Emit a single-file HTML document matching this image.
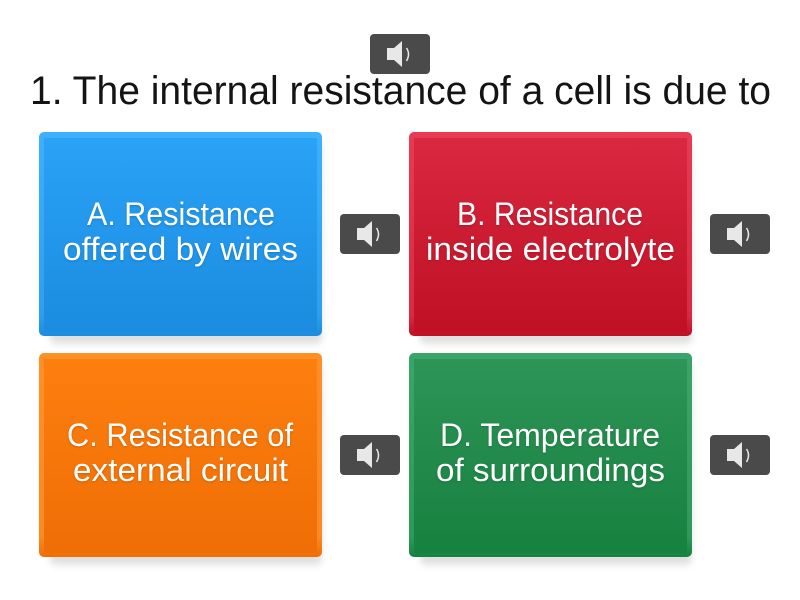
<!DOCTYPE html>
<html><head><meta charset="utf-8"><style>
html,body{margin:0;padding:0;background:#fff;width:800px;height:600px;overflow:hidden}
svg{display:block}
text{font-family:"Liberation Sans",sans-serif}
.t{fill:#fff;font-size:32.5px;filter:drop-shadow(0 1px 1px rgba(0,0,0,.18))}
</style></head><body>
<svg width="800" height="600" viewBox="0 0 800 600" xmlns="http://www.w3.org/2000/svg">
<defs>
<filter id="s" x="-10%" y="-10%" width="120%" height="125%"><feGaussianBlur stdDeviation="3.5"/></filter>
<linearGradient id="a" x1="0" y1="0" x2="0" y2="1"><stop offset="0" stop-color="#2aa2f6"/><stop offset="1" stop-color="#1b8ce0"/></linearGradient>
<linearGradient id="b" x1="0" y1="0" x2="0" y2="1"><stop offset="0" stop-color="#d92840"/><stop offset="1" stop-color="#bf1024"/></linearGradient>
<linearGradient id="c" x1="0" y1="0" x2="0" y2="1"><stop offset="0" stop-color="#fd7f0e"/><stop offset="1" stop-color="#ef6e06"/></linearGradient>
<linearGradient id="d" x1="0" y1="0" x2="0" y2="1"><stop offset="0" stop-color="#2d9557"/><stop offset="1" stop-color="#178140"/></linearGradient>
<linearGradient id="ae" x1="0" y1="0" x2="0" y2="1"><stop offset="0" stop-color="#3db0ff"/><stop offset=".9" stop-color="#2b9ff0"/><stop offset="1" stop-color="#1b8ce0"/></linearGradient>
<linearGradient id="be" x1="0" y1="0" x2="0" y2="1"><stop offset="0" stop-color="#e83a52"/><stop offset=".9" stop-color="#d82a42"/><stop offset="1" stop-color="#bf1024"/></linearGradient>
<linearGradient id="ce" x1="0" y1="0" x2="0" y2="1"><stop offset="0" stop-color="#ff9026"/><stop offset=".9" stop-color="#fb8a20"/><stop offset="1" stop-color="#ef6e06"/></linearGradient>
<linearGradient id="de" x1="0" y1="0" x2="0" y2="1"><stop offset="0" stop-color="#3aa568"/><stop offset=".9" stop-color="#2c9a5a"/><stop offset="1" stop-color="#178140"/></linearGradient>
<g id="spk">
<rect x="0" y="0" width="60" height="40" rx="4" fill="#4a4a4a"/>
<path d="M17 14h7l8-7v26l-8-7h-7z" fill="#e8e8e8"/>
<path d="M36.500 14q4 6 0 13" fill="none" stroke="#e8e8e8" stroke-width="1.500"/>
</g>
</defs>

<use href="#spk" x="370" y="34"/>
<text x="30" y="104" font-size="40" fill="#141414" textLength="741" lengthAdjust="spacingAndGlyphs">1. The internal resistance of a cell is due to</text>

<!-- A -->
<rect x="50" y="142" width="272" height="202" rx="6" fill="#8a8a8a" opacity=".26" filter="url(#s)"/>
<rect x="39" y="132" width="283" height="204" rx="5" fill="url(#ae)"/>
<rect x="44" y="138" width="273" height="194" fill="url(#a)"/>
<text class="t" x="87" y="225" textLength="188" lengthAdjust="spacingAndGlyphs">A. Resistance</text>
<text class="t" x="63" y="260" textLength="235" lengthAdjust="spacingAndGlyphs">offered by wires</text>
<use href="#spk" x="340" y="214"/>

<!-- B -->
<rect x="420" y="142" width="272" height="202" rx="6" fill="#8a8a8a" opacity=".26" filter="url(#s)"/>
<rect x="409" y="132" width="283" height="204" rx="5" fill="url(#be)"/>
<rect x="414" y="138" width="273" height="194" fill="url(#b)"/>
<text class="t" x="457" y="225" textLength="186" lengthAdjust="spacingAndGlyphs">B. Resistance</text>
<text class="t" x="426" y="260" textLength="249" lengthAdjust="spacingAndGlyphs">inside electrolyte</text>
<use href="#spk" x="710" y="214"/>

<!-- C -->
<rect x="50" y="363" width="272" height="202" rx="6" fill="#8a8a8a" opacity=".26" filter="url(#s)"/>
<rect x="39" y="353" width="283" height="204" rx="5" fill="url(#ce)"/>
<rect x="44" y="359" width="273" height="194" fill="url(#c)"/>
<text class="t" x="67" y="446" textLength="226" lengthAdjust="spacingAndGlyphs">C. Resistance of</text>
<text class="t" x="73" y="481" textLength="215" lengthAdjust="spacingAndGlyphs">external circuit</text>
<use href="#spk" x="340" y="435"/>

<!-- D -->
<rect x="420" y="363" width="272" height="202" rx="6" fill="#8a8a8a" opacity=".26" filter="url(#s)"/>
<rect x="409" y="353" width="283" height="204" rx="5" fill="url(#de)"/>
<rect x="414" y="359" width="273" height="194" fill="url(#d)"/>
<text class="t" x="440" y="446" textLength="220" lengthAdjust="spacingAndGlyphs">D. Temperature</text>
<text class="t" x="436" y="481" textLength="229" lengthAdjust="spacingAndGlyphs">of surroundings</text>
<use href="#spk" x="710" y="435"/>
</svg>
</body></html>
